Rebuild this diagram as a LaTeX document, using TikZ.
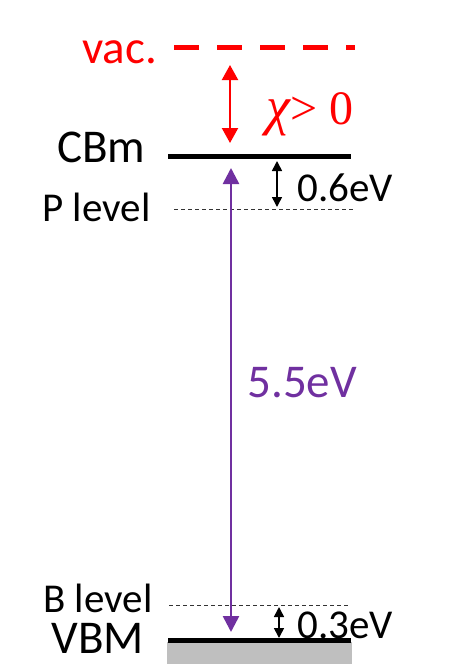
\documentclass[tikz,border=0pt]{standalone}
\usepackage{fontspec}
\setmainfont{Carlito}
\newfontfamily\timesfont{Liberation Serif}
\usetikzlibrary{arrows.meta}

\definecolor{vacred}{RGB}{255,0,0}
\definecolor{gappurple}{RGB}{112,48,160}
\definecolor{bandgray}{RGB}{191,191,191}

\tikzset{every picture/.style={line width=0.75pt}}
\tikzset{
  big/.style={font=\fontsize{47}{50}\selectfont},
  small/.style={font=\fontsize{41}{45}\selectfont},
  lbl/.style={anchor=base west,inner sep=0pt},
  bandline/.style={line width=5pt},
  levelline/.style={line width=0.8pt,dash pattern={on 4pt off 3pt},black!80},
  gaparrow/.style={line width=1.6pt,{Triangle[width=10pt,length=10pt]}-{Triangle[width=10pt,length=10pt]}},
}

\begin{document}
\begin{tikzpicture}[x=1pt,y=1pt,yscale=-1,xscale=1]
\useasboundingbox (0,0) rectangle (461,664);

%Shape: Rectangle (valence band)
\fill [bandgray] (167,642) rectangle (352,664);

% level ends
\coordinate (vacL) at (174,47);
\coordinate (vacR) at (355,47);
\coordinate (cbL) at (168,156);
\coordinate (cbR) at (351,156);
\coordinate (pL) at (174,209);
\coordinate (pR) at (355,209);
\coordinate (bL) at (169,605);
\coordinate (bR) at (350,605);
\coordinate (vbL) at (168,640);
\coordinate (vbR) at (351,640);

%Straight Lines (vacuum)
\draw [vacred,line width=5pt,dash pattern={on 25pt off 18pt}] (vacL) -- (vacR);
%Straight Lines (CBm)
\draw [bandline] (cbL) -- (cbR);
%Straight Lines (P level)
\draw [levelline] (pL) -- (pR);
%Straight Lines (B level)
\draw [levelline] (bL) -- (bR);
%Straight Lines (VBM)
\draw [bandline] (vbL) -- (vbR);

% arrow ends
\coordinate (chiT) at (230,65);
\coordinate (chiB) at (230,143);
\coordinate (gapT) at (231,168);
\coordinate (gapB) at (231,632);
\coordinate (pgT) at (277,161);
\coordinate (pgB) at (277,207);
\coordinate (bgT) at (279,607);
\coordinate (bgB) at (279,638);

%Straight Lines (electron affinity)
\draw [vacred,line width=2.2pt,{Triangle[width=16pt,length=15pt]}-{Triangle[width=16pt,length=15pt]}] (chiT) -- (chiB);
%Straight Lines (band gap)
\draw [gappurple,line width=2.6pt,{Triangle[width=16pt,length=16pt]}-{Triangle[width=16pt,length=16pt]}] (gapT) -- (gapB);
%Straight Lines (0.6eV)
\draw [gaparrow] (pgT) -- (pgB);
%Straight Lines (0.3eV)
\draw [gaparrow] (bgT) -- (bgB);

% Text Node
\node (vac) [lbl,big,text=vacred] at (82,63) {vac.};
% Text Node
\node (chi) [lbl,text=vacred,font=\timesfont\fontsize{48}{50}\selectfont] at (266,124) {{\itshape\fontsize{54}{56}\selectfont χ}> 0};
% Text Node
\node (cbm) [lbl,big] at (57,162) {CBm};
% Text Node
\node (plev) [lbl,small] at (42,221) {P level};
% Text Node
\node (p06) [lbl,small] at (297,201) {0.6eV};
% Text Node
\node (gap) [lbl,big,text=gappurple] at (247,397) {5.5eV};
% Text Node
\node (blev) [lbl,small,text depth=0pt] at (43,612) {B level};
% Text Node
\node (b03) [lbl,small] at (297,638) {0.3eV};
% Text Node
\node (vbm) [lbl,big,text height=30pt] at (51,653) {VBM};

\end{tikzpicture}
\end{document}
